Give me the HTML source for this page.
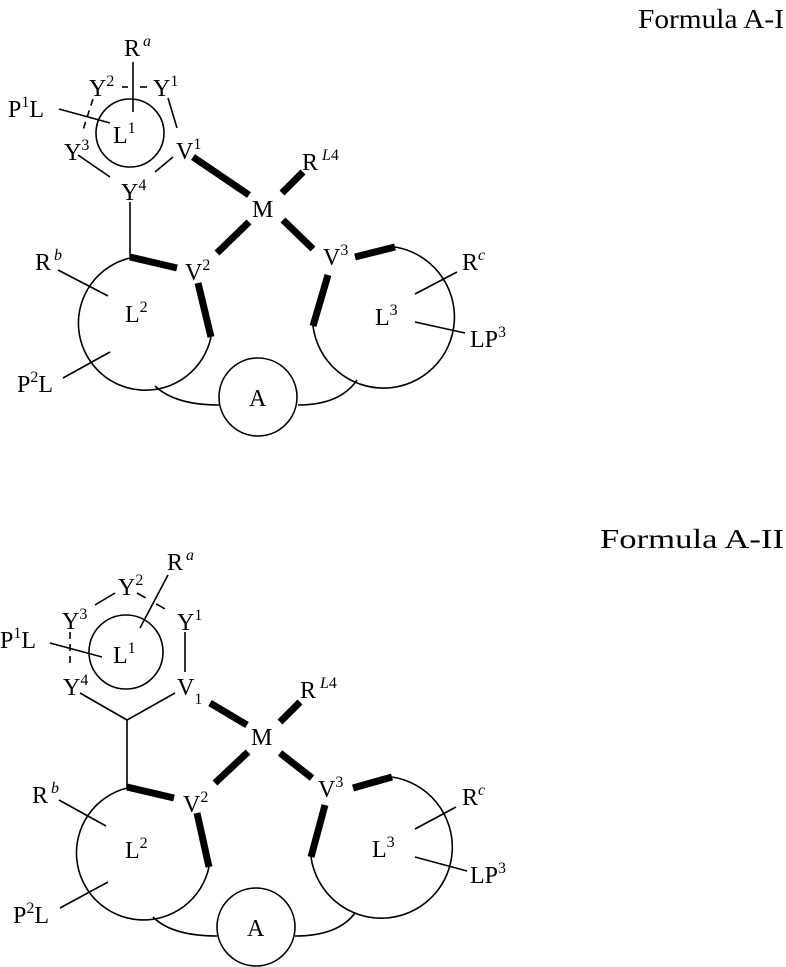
<!DOCTYPE html>
<html><head><meta charset="utf-8"><style>
html,body{margin:0;padding:0;background:#fff;}
svg{display:block;}
text{font-family:"Liberation Serif",serif;font-size:24px;fill:#000;}
.s{font-size:16px;}
.f{font-size:27px;}
</style></head><body>
<svg width="786" height="967" viewBox="0 0 786 967" xmlns="http://www.w3.org/2000/svg">
<g fill="none" stroke="#000" stroke-width="1.6">
<line x1="133" y1="62" x2="133" y2="112"/>
<line x1="122" y1="87" x2="128" y2="87"/>
<line x1="140" y1="87" x2="147" y2="87"/>
<circle cx="130" cy="133" r="34"/>
<line x1="59" y1="109" x2="110" y2="123"/>
<line x1="93" y1="99" x2="83" y2="130" stroke-dasharray="7,5"/>
<line x1="168" y1="98" x2="177" y2="128"/>
<line x1="78" y1="155" x2="110" y2="177"/>
<line x1="173" y1="157" x2="155" y2="172"/>
<line x1="130" y1="202" x2="130" y2="257"/>
<path d="M130 258 A67 67 0 1 0 211 337"/>
<line x1="58" y1="270" x2="108" y2="296"/>
<line x1="63" y1="378" x2="110" y2="352"/>
<circle cx="258" cy="397" r="39"/>
<path d="M155 386 Q175 405 219 405"/>
<path d="M298 405 Q340 405 357 380"/>
<path d="M395 247 A71 71 0 1 1 313 326"/>
<line x1="415" y1="294" x2="457" y2="272"/>
<line x1="415" y1="322" x2="465" y2="333"/>
<line x1="168" y1="575" x2="140" y2="628"/>
<line x1="95" y1="605" x2="115" y2="593"/>
<line x1="137" y1="593" x2="167" y2="610" stroke-dasharray="10,12"/>
<circle cx="126" cy="652" r="37"/>
<line x1="50" y1="643" x2="102" y2="657"/>
<line x1="70" y1="632" x2="70" y2="667" stroke-dasharray="7,5"/>
<line x1="185" y1="632" x2="185" y2="672"/>
<line x1="80" y1="693" x2="127" y2="720"/>
<line x1="175" y1="693" x2="127" y2="720"/>
<line x1="127" y1="720" x2="127" y2="788"/>
<path d="M127 788 A67 67 0 1 0 209 867"/>
<line x1="59" y1="800" x2="106" y2="826"/>
<line x1="60" y1="908" x2="108" y2="882"/>
<circle cx="256" cy="927" r="39"/>
<path d="M153 917 Q172 936 217 936"/>
<path d="M295 936 Q338 936 355 913"/>
<path d="M392 777 A71 71 0 1 1 311 857"/>
<line x1="415" y1="829" x2="456" y2="807"/>
<line x1="415" y1="857" x2="467" y2="871"/>
</g>
<g stroke="#000" stroke-width="7" fill="none">
<line x1="193" y1="157" x2="249" y2="195"/>
<line x1="282" y1="193" x2="303" y2="172"/>
<line x1="249" y1="222" x2="217" y2="253"/>
<line x1="283" y1="220" x2="313" y2="249"/>
<line x1="130" y1="257" x2="177" y2="268"/>
<line x1="198" y1="283" x2="211" y2="337"/>
<line x1="355" y1="257" x2="395" y2="247"/>
<line x1="328" y1="275" x2="313" y2="326"/>
<line x1="210" y1="703" x2="247" y2="725"/>
<line x1="280" y1="722" x2="300" y2="702"/>
<line x1="248" y1="752" x2="215" y2="783"/>
<line x1="280" y1="753" x2="312" y2="778"/>
<line x1="127" y1="787" x2="174" y2="798"/>
<line x1="197" y1="813" x2="209" y2="867"/>
<line x1="353" y1="788" x2="392" y2="777"/>
<line x1="325" y1="805" x2="311" y2="857"/>
</g>
<text class="f" x="638" y="28" textLength="146" lengthAdjust="spacingAndGlyphs">Formula A-I</text>
<text x="124" y="56">R<tspan class="s" font-style="italic" dx="3" dy="-10">a</tspan></text>
<text x="89" y="96">Y<tspan class="s" dy="-10">2</tspan></text>
<text x="153" y="96">Y<tspan class="s" dy="-10">1</tspan></text>
<text x="8" y="117">P<tspan class="s" dy="-10">1</tspan><tspan dy="10">L</tspan></text>
<text x="113" y="143">L<tspan class="s" dy="-10">1</tspan></text>
<text x="64" y="160">Y<tspan class="s" dy="-10">3</tspan></text>
<text x="176" y="159">V<tspan class="s" dy="-10">1</tspan></text>
<text x="121" y="200">Y<tspan class="s" dy="-10">4</tspan></text>
<text x="252" y="217">M</text>
<text x="302" y="170">R<tspan class="s" font-style="italic" dx="4" dy="-10">L</tspan><tspan class="s">4</tspan></text>
<text x="185" y="280">V<tspan class="s" dy="-10">2</tspan></text>
<text x="323" y="265">V<tspan class="s" dy="-10">3</tspan></text>
<text x="125" y="322">L<tspan class="s" dy="-10">2</tspan></text>
<text x="35" y="270">R<tspan class="s" font-style="italic" dx="3" dy="-10">b</tspan></text>
<text x="17" y="392">P<tspan class="s" dy="-10">2</tspan><tspan dy="10">L</tspan></text>
<text x="249" y="406">A</text>
<text x="375" y="325">L<tspan class="s" dy="-10">3</tspan></text>
<text x="462" y="270">R<tspan class="s" font-style="italic" dy="-10">c</tspan></text>
<text x="470" y="347">LP<tspan class="s" dy="-10">3</tspan></text>
<text class="f" x="600" y="548" textLength="184" lengthAdjust="spacingAndGlyphs">Formula A-II</text>
<text x="167" y="570">R<tspan class="s" font-style="italic" dx="3" dy="-10">a</tspan></text>
<text x="118" y="595">Y<tspan class="s" dy="-10">2</tspan></text>
<text x="62" y="629">Y<tspan class="s" dy="-10">3</tspan></text>
<text x="177" y="630">Y<tspan class="s" dy="-10">1</tspan></text>
<text x="0" y="648">P<tspan class="s" dy="-10">1</tspan><tspan dy="10">L</tspan></text>
<text x="113" y="663">L<tspan class="s" dy="-10">1</tspan></text>
<text x="63" y="695">Y<tspan class="s" dy="-10">4</tspan></text>
<text x="177" y="695">V<tspan class="s" dy="9">1</tspan></text>
<text x="251" y="745">M</text>
<text x="300" y="698">R<tspan class="s" font-style="italic" dx="4" dy="-10">L</tspan><tspan class="s">4</tspan></text>
<text x="183" y="812">V<tspan class="s" dy="-10">2</tspan></text>
<text x="318" y="797">V<tspan class="s" dy="-10">3</tspan></text>
<text x="125" y="858">L<tspan class="s" dy="-10">2</tspan></text>
<text x="32" y="803">R<tspan class="s" font-style="italic" dx="3" dy="-10">b</tspan></text>
<text x="13" y="923">P<tspan class="s" dy="-10">2</tspan><tspan dy="10">L</tspan></text>
<text x="247" y="936">A</text>
<text x="372" y="857">L<tspan class="s" dy="-10">3</tspan></text>
<text x="462" y="805">R<tspan class="s" font-style="italic" dy="-10">c</tspan></text>
<text x="470" y="883">LP<tspan class="s" dy="-10">3</tspan></text>
</svg>
</body></html>
